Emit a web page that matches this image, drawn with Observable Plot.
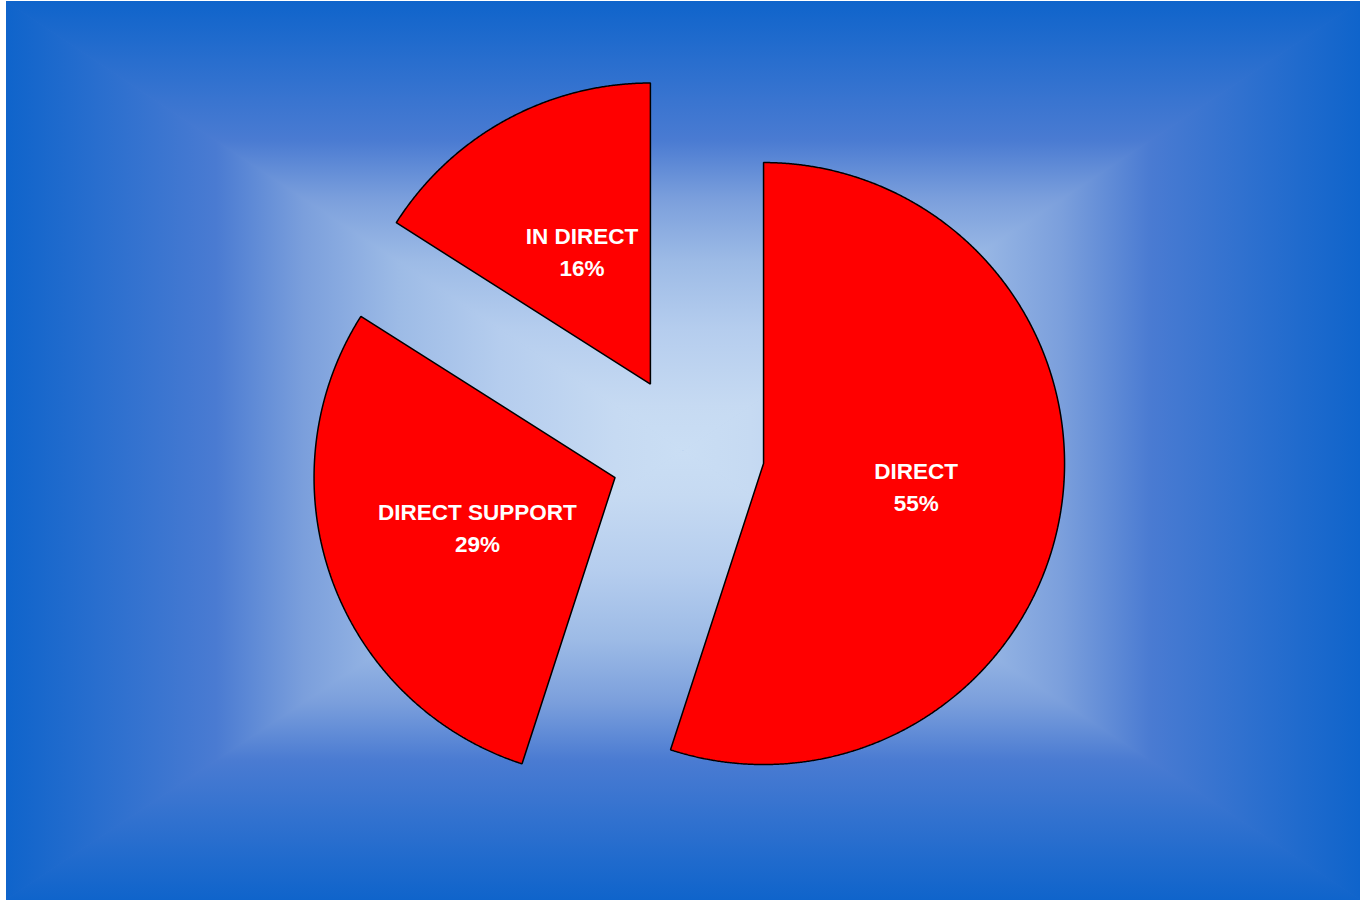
<!DOCTYPE html>
<html><head><meta charset="utf-8">
<script src="https://cdn.jsdelivr.net/npm/d3@7"></script>
<script src="https://cdn.jsdelivr.net/npm/@observablehq/plot@0.6"></script>
<style>html,body{margin:0;padding:0;background:#fff;} #chart svg{display:block}</style>
</head><body><div id="chart"></div>
<script>
const categories = ["DIRECT", "DIRECT SUPPORT", "IN DIRECT"];
const values = [55, 29, 16];

// layout
const W = 1360, H = 900;
const CX = 687, CY = 451, R = 301, EXPLODE = 77;
const BG = {x0: 6, y0: 1, x1: 1360, y1: 900};
const BG_STOPS = [[0, "#0f64cb"], [0.31, "#4a7bd2"], [0.44, "#7b9fdc"], [0.58, "#9dbbe6"], [0.73, "#b5cdee"], [0.9, "#c6daf2"], [1, "#cadef4"]];

const pie = d3.pie().sort(null).value(d => d)(values);
const total = d3.sum(values);
const polys = [], labels = [];
pie.forEach((p, i) => {
  const mid = (p.startAngle + p.endAngle) / 2;
  const ox = CX + EXPLODE * Math.sin(mid), oy = CY - EXPLODE * Math.cos(mid);
  polys.push({key: categories[i], x: ox, y: oy});
  const n = Math.max(2, Math.ceil((p.endAngle - p.startAngle) / 0.004));
  for (let k = 0; k <= n; k++) {
    const a = p.startAngle + (p.endAngle - p.startAngle) * k / n;
    polys.push({key: categories[i], x: ox + R * Math.sin(a), y: oy - R * Math.cos(a)});
  }
  labels.push({
    x: ox + R * 0.5 * Math.sin(mid),
    y: oy - R * 0.5 * Math.cos(mid),
    text: `${categories[i]}\n${Math.round(values[i] / total * 100)}%`
  });
});

const chart = Plot.plot({
  width: W, height: H,
  margin: 0,
  x: {domain: [0, W], range: [0, W], axis: null},
  y: {domain: [0, H], range: [0, H], axis: null},
  style: {fontFamily: "'Liberation Sans', Arial, sans-serif", background: "white"},
  marks: [
    Plot.line(polys, {x: "x", y: "y", z: "key", curve: "linear-closed", fill: "#ff0000", stroke: "#000", strokeWidth: 1.5, strokeLinejoin: "miter"}),
    Plot.text(labels, {x: "x", y: "y", dx: 4, dy: -2.5, text: "text", fill: "white", fontWeight: "bold", fontSize: 22.5, lineHeight: 1.42})
  ]
});

// gradient background (rectangular "from center" fill)
const svg = d3.select(chart);
const g = svg.insert("g", ":first-child");
const defs = g.append("defs");
const cxb = (BG.x0 + BG.x1) / 2, cyb = (BG.y0 + BG.y1) / 2;
const e = 1.2; // slight overlap to hide seams
const tris = [
  {id: "gl", pts: [[BG.x0, BG.y0], [BG.x0, BG.y1], [cxb, cyb]], from: [BG.x0, cyb], to: [cxb, cyb]},
  {id: "gr", pts: [[BG.x1, BG.y0], [BG.x1, BG.y1], [cxb, cyb]], from: [BG.x1, cyb], to: [cxb, cyb]},
  {id: "gt", pts: [[BG.x0 - e, BG.y0], [BG.x1 + e, BG.y0], [cxb + e, cyb], [cxb - e, cyb]], from: [cxb, BG.y0], to: [cxb, cyb]},
  {id: "gb", pts: [[BG.x0 - e, BG.y1], [BG.x1 + e, BG.y1], [cxb + e, cyb], [cxb - e, cyb]], from: [cxb, BG.y1], to: [cxb, cyb]}
];
g.append("rect").attr("x", BG.x0).attr("y", BG.y0).attr("width", BG.x1 - BG.x0).attr("height", BG.y1 - BG.y0).attr("fill", "#6f94dc");
const clip = defs.append("clipPath").attr("id", "bgclip");
clip.append("rect").attr("x", BG.x0).attr("y", BG.y0).attr("width", BG.x1 - BG.x0).attr("height", BG.y1 - BG.y0);
const tg = g.append("g").attr("clip-path", "url(#bgclip)");
tris.forEach(t => {
  const lg = defs.append("linearGradient").attr("id", t.id).attr("gradientUnits", "userSpaceOnUse")
    .attr("x1", t.from[0]).attr("y1", t.from[1]).attr("x2", t.to[0]).attr("y2", t.to[1]);
  BG_STOPS.forEach(([o, c]) => lg.append("stop").attr("offset", o).attr("stop-color", c));
  tg.append("polygon").attr("points", t.pts.map(p => p.join(",")).join(" ")).attr("fill", `url(#${t.id})`);
});

document.getElementById("chart").appendChild(chart);
</script>
</body></html>
